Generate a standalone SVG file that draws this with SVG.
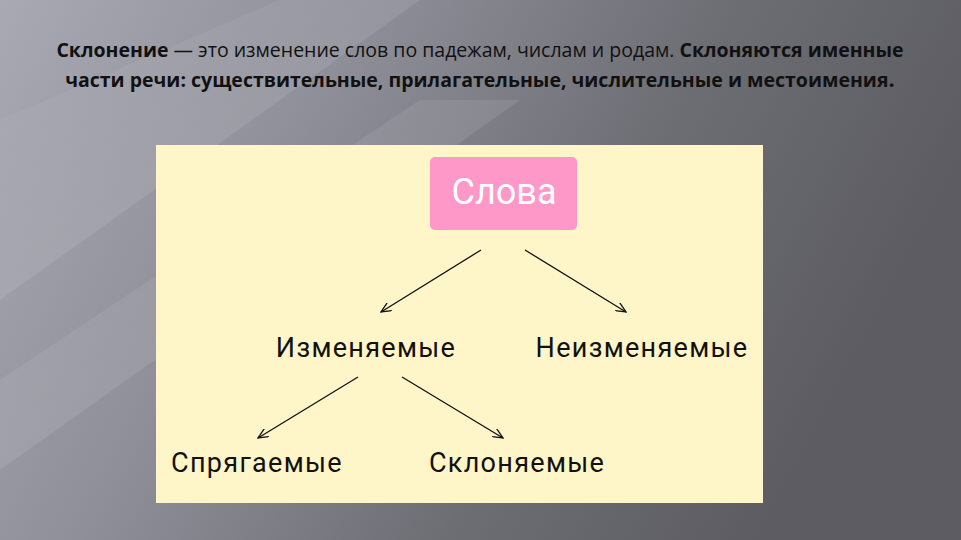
<svg xmlns="http://www.w3.org/2000/svg" width="961" height="540" viewBox="0 0 961 540">
  <defs>
    <linearGradient id="bg" x1="0" y1="0" x2="1" y2="0.3">
      <stop offset="0" stop-color="#a9a9b3"/>
      <stop offset="0.35" stop-color="#8f8f99"/>
      <stop offset="0.7" stop-color="#6d6d74"/>
      <stop offset="1" stop-color="#5c5c62"/>
    </linearGradient>
    <linearGradient id="streak" x1="0" y1="0" x2="1" y2="1">
      <stop offset="0" stop-color="#ffffff" stop-opacity="0"/>
      <stop offset="0.5" stop-color="#ffffff" stop-opacity="0.09"/>
      <stop offset="1" stop-color="#ffffff" stop-opacity="0"/>
    </linearGradient>
    <marker id="arr" markerWidth="12" markerHeight="10" refX="11" refY="5" orient="auto" markerUnits="userSpaceOnUse">
      <path d="M1,0.5 L11,5 L1,9.5" fill="none" stroke="#111" stroke-width="1.3"/>
    </marker>
    <style>
      .title { font-family: "Open Sans", "Noto Sans", sans-serif; font-size: 19.5px; fill: #111; }
      .b { font-weight: bold; }
      .lbl { font-family: Roboto, "Liberation Sans", sans-serif; font-size: 27px; letter-spacing: 1.3px; fill: #111; }
      .conn { stroke: #111; stroke-width: 1.3; fill: none; marker-end: url(#arr); }
    </style>
  </defs>

  <rect x="0" y="0" width="961" height="540" fill="url(#bg)"/>
  <polygon points="0,120 280,0 420,0 0,300" fill="url(#streak)"/>
  <polygon points="0,380 420,100 520,100 0,470" fill="url(#streak)"/>

  <g id="title">
    <text class="title" x="480" y="57" text-anchor="middle"><tspan class="b">Склонение</tspan> — это изменение слов по падежам, числам и родам. <tspan class="b">Склоняются именные</tspan></text>
    <text class="title b" x="480" y="87" text-anchor="middle">части речи: существительные, прилагательные, числительные и местоимения<tspan font-size="22">.</tspan></text>
  </g>

  <rect id="panel" x="156" y="145" width="607" height="358" fill="#fef5c8"/>

  <g id="node-slova">
    <rect x="430" y="157" width="147" height="73" rx="5" fill="#fd98c8"/>
    <text x="504" y="204" text-anchor="middle" font-family="Roboto, 'Liberation Sans', sans-serif" font-size="36" fill="#ffffff">Слова</text>
  </g>
  <g id="node-izmenyaemye">
    <text class="lbl" x="366" y="357" text-anchor="middle">Изменяемые</text>
  </g>
  <g id="node-neizmenyaemye">
    <text class="lbl" x="642" y="357" text-anchor="middle">Неизменяемые</text>
  </g>
  <g id="node-spryagaemye">
    <text class="lbl" x="257" y="472" text-anchor="middle">Спрягаемые</text>
  </g>
  <g id="node-sklonyaemye">
    <text class="lbl" x="517" y="472" text-anchor="middle">Склоняемые</text>
  </g>

  <g id="connectors">
    <line class="conn" x1="481" y1="250" x2="381" y2="312"/>
    <line class="conn" x1="525" y1="250" x2="626" y2="312"/>
    <line class="conn" x1="358" y1="377" x2="258" y2="438"/>
    <line class="conn" x1="402" y1="377" x2="503" y2="438"/>
  </g>
</svg>
